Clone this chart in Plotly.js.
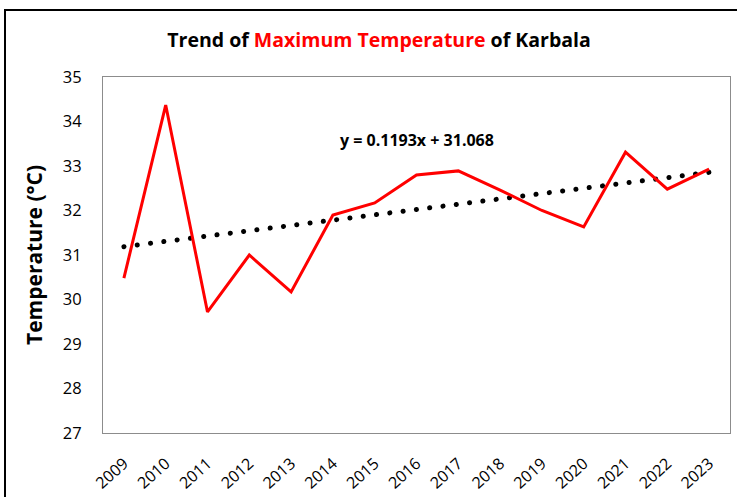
<!DOCTYPE html>
<html>
<head>
<meta charset="utf-8">
<script src="https://cdn.plot.ly/plotly-3.0.1.min.js"></script>
<style>
html,body{margin:0;padding:0;background:#fff;}
#chart{width:737px;height:497px;}
</style>
</head>
<body>
<div id="chart"></div>
<script>
const years = ["2009","2010","2011","2012","2013","2014","2015","2016","2017","2018","2019","2020","2021","2022","2023"];
const maxTemp = [30.48, 34.37, 29.72, 31.0, 30.17, 31.9, 32.17, 32.8, 32.89, 32.46, 32.0, 31.63, 33.31, 32.48, 32.93];
const trendSlope = 0.1193;
const trendIntercept = 31.068;
const trendLabel = "y = 0.1193x + 31.068";
const yTicks = [27, 28, 29, 30, 31, 32, 33, 34, 35];

const trendVals = years.map((_, i) => trendSlope * (i + 1) + trendIntercept);

const FONT = "Open Sans, Noto Sans, sans-serif";

const traces = [
  {
    x: years, y: trendVals, type: "scatter", mode: "lines",
    line: {color: "#000000", width: 5, dash: "1px,12px"},
    hoverinfo: "skip", name: "trend"
  },
  {
    x: years, y: maxTemp, type: "scatter", mode: "lines",
    line: {color: "#ff0000", width: 3},
    name: "Max"
  }
];

const L = 103, R = 7, T = 77, B = 64;
const W = 737 - L - R, H = 497 - T - B;

const layout = {
  width: 737, height: 497,
  margin: {l: L, r: R, t: T, b: B, pad: 0},
  paper_bgcolor: "#ffffff", plot_bgcolor: "#ffffff",
  showlegend: false,
  font: {family: FONT, color: "#000000"},
  title: {
    text: "<b>Trend of <span style='color:#ff0000'>Maximum Temperature</span> of Karbala</b>",
    font: {family: FONT, size: 19.5, color: "#000000"},
    x: 379 / 737, xanchor: "center", xref: "container",
    y: 1 - 40 / 497, yanchor: "middle", yref: "container"
  },
  xaxis: {
    type: "category",
    range: [-0.5, 14.5],
    tickangle: -42,
    tickfont: {family: FONT, size: 16, color: "#000000"},
    showgrid: false, zeroline: false,
    showline: true, linecolor: "#8c8c8c", linewidth: 1, mirror: true,
    ticks: "", ticklabelstandoff: 14,
    fixedrange: true
  },
  yaxis: {
    range: [27, 35],
    tickvals: yTicks,
    ticktext: yTicks.map(String),
    tickfont: {family: FONT, size: 16.5, color: "#000000"},
    showgrid: false, zeroline: false,
    showline: true, linecolor: "#8c8c8c", linewidth: 1, mirror: true,
    ticks: "", ticklabelstandoff: 17,
    title: {text: "<b>Temperature (°C)</b>", font: {family: FONT, size: 21, color: "#000000"}, standoff: 14},
    fixedrange: true
  },
  annotations: [
    {
      text: "<b>" + trendLabel + "</b>",
      xref: "paper", yref: "paper",
      x: (417 - L) / W, y: 1 - (140 - T) / H,
      xanchor: "center", yanchor: "middle",
      showarrow: false,
      font: {family: FONT, size: 16, color: "#000000"}
    }
  ],
  shapes: [
    {
      type: "rect", xref: "paper", yref: "paper",
      x0: (5 - L) / W, x1: (760 - L) / W,
      y0: 1 - (520 - T) / H, y1: 1 + (T - 10) / H,
      line: {color: "#000000", width: 2}, fillcolor: "rgba(0,0,0,0)", layer: "below"
    }
  ]
};

Plotly.newPlot("chart", traces, layout, {displayModeBar: false, staticPlot: true}).then(() => {
  const paths = document.querySelectorAll(".scatterlayer .trace")[0].querySelectorAll("path.js-line");
  paths.forEach(p => {
    p.style.strokeLinecap = "round";
    p.style.strokeDasharray = "0.1px,13.3px";
  });
});
</script>
</body>
</html>
